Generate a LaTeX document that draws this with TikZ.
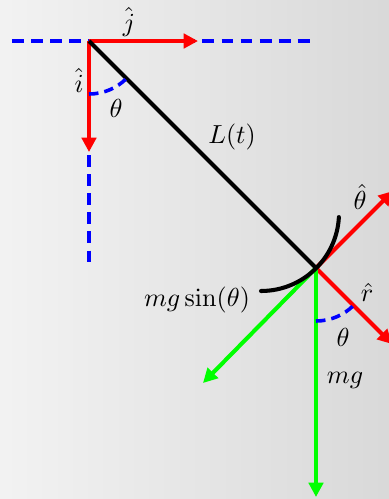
\documentclass[tikz,border=0pt]{standalone}
\usetikzlibrary{arrows.meta}
\begin{document}
\begin{tikzpicture}[x=0.42pt,y=0.42pt,
  font=\fontsize{10.7}{13}\selectfont,
  vec/.style={line width=1.7pt,-{Triangle[length=6pt,width=6pt]}},
  redvec/.style={vec,draw=red,fill=red},
  greenvec/.style={vec,draw=green,fill=green},
  guide/.style={draw=blue,line width=1.7pt,dash pattern=on 5pt off 3pt},
  anglearc/.style={draw=blue,line width=1.5pt,dash pattern=on 4pt off 2.5pt},
  string/.style={draw=black,line width=1.7pt},
  lbl/.style={inner sep=0pt}]
% background
\useasboundingbox (0,0) rectangle (389,-499);
\clip (0,0) rectangle (389,-499);
\shade[left color=black!5,right color=black!15] (0,0) rectangle (389,-499);
% points
\coordinate (O) at (89,-41);
\coordinate (B) at (316,-268);
\coordinate (hl) at (12,-41);
\coordinate (hr) at (311,-41);
\coordinate (vb) at (89,-268);
\coordinate (jt) at (198,-41);
\coordinate (it) at (89,-152);
\coordinate (tht) at (393,-191);
\coordinate (rt) at (392,-344);
\coordinate (gt) at (316,-497);
\coordinate (st) at (203,-383);
\coordinate (C) at (261,-213);
% guide lines
\draw[guide] (hl) -- (hr);
\draw[guide] (O) -- (vb);
% unit vectors
\draw[redvec] (O) -- (jt);
\draw[redvec] (O) -- (it);
\draw[redvec] (B) -- (tht);
\draw[redvec] (B) -- (rt);
% forces
\draw[greenvec] (B) -- (gt);
\draw[greenvec] (B) -- (st);
% string
\draw[string] (O) -- (B);
\draw[string,line cap=round] ([shift={(-90:78)}]C) arc[start angle=-90,end angle=-3,radius=78];
% angle arcs
\draw[anglearc] ([shift={(-90:53)}]O) arc[start angle=-90,end angle=-45,radius=53];
\draw[anglearc] ([shift={(-90:53)}]B) arc[start angle=-90,end angle=-45,radius=53];
% labels
\node[lbl] (lj) at (129,-22) {$\hat{j}$};
\node[lbl] (li) at (79,-80) {$\hat{i}$};
\node[lbl] (lth1) at (116,-108) {$\theta$};
\node[lbl] (lL) at (232,-137) {$L(t)$};
\node[lbl] (lthh) at (360,-197) {$\hat{\theta}$};
\node[lbl] (lr) at (367,-292) {$\hat{r}$};
\node[lbl] (lth2) at (343,-337) {$\theta$};
\node[lbl] (ls) at (197,-300) {$mg\sin(\theta)$};
\node[lbl] (lmg) at (345,-380) {$mg$};
\end{tikzpicture}
\end{document}
